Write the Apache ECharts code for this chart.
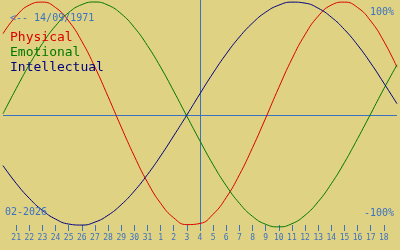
<!DOCTYPE html>
<html>
<head>
<meta charset="utf-8">
<script src="https://cdn.jsdelivr.net/npm/echarts@6/dist/echarts.min.js"></script>
<style>
html,body{margin:0;padding:0;background:#DFD283;}
#c{width:400px;height:250px;}
</style>
</head>
<body>
<div id="c"></div>
<script>
// Day labels (first and last slots are the chart edges, unlabeled)
var dayLabels = ['', '21','22','23','24','25','26','27','28','29','30','31',
  '1','2','3','4','5','6','7','8','9','10','11','12','13','14','15','16','17','18', ''];

// Values (fraction of 100%), one per slot
var physical = [0.72, 0.875, 0.973, 0.999, 0.951, 0.832, 0.652, 0.423, 0.163, -0.106,
  -0.364, -0.595, -0.781, -0.91, -0.97, -0.96, -0.878, -0.73, -0.529, -0.289,
  -0.027, 0.243, 0.496, 0.712, 0.875, 0.973, 0.999, 0.951, 0.832, 0.652, 0.423];
var emotional = [0.011, 0.233, 0.444, 0.632, 0.789, 0.906, 0.977, 1.0, 0.972, 0.896,
  0.775, 0.614, 0.424, 0.211, -0.011, -0.23, -0.44, -0.626, -0.781, -0.897,
  -0.967, -0.99, -0.962, -0.887, -0.767, -0.608, -0.42, -0.209, 0.011, 0.233, 0.444];
var intellectual = [-0.448, -0.604, -0.737, -0.844, -0.921, -0.965, -0.974, -0.948, -0.887, -0.794,
  -0.673, -0.527, -0.363, -0.184, 0, 0.189, 0.372, 0.541, 0.69, 0.814,
  0.91, 0.972, 0.999, 0.99, 0.945, 0.866, 0.756, 0.619, 0.459, 0.282, 0.1];

var todayIndex = 15; // label '4'
var birthText = '<-- 14/09/1971';
var monthText = '02-2026';
var topText = '100%';
var bottomText = '-100%';
var seriesNames = ['Physical', 'Emotional', 'Intellectual'];
var seriesColors = ['#DD0000', '#007800', '#000080'];

var blue = '#3A72C2';
var mono = '"DejaVu Sans Mono", "Liberation Mono", monospace';

var chart = echarts.init(document.getElementById('c'), null, {renderer: 'canvas'});

function mkSeries(name, data, color, withMarks) {
  var s = {
    name: name, type: 'line', data: data, smooth: true, showSymbol: false,
    symbol: 'none', lineStyle: {color: color, width: 1}, itemStyle: {color: color},
    z: 3
  };
  if (withMarks) {
    s.markLine = {
      silent: true, symbol: ['none', 'none'], label: {show: false},
      lineStyle: {color: blue, width: 1, type: 'solid'},
      data: [{yAxis: 0}, {xAxis: todayIndex}],
      z: 1
    };
  }
  return s;
}

chart.setOption({
  animation: false,
  backgroundColor: '#DFD283',
  grid: {left: 0, right: 0, top: 0, bottom: 20},
  xAxis: {
    type: 'category', data: dayLabels, boundaryGap: false, offset: -5,
    axisLine: {show: false, onZero: false},
    axisTick: {show: true, length: 6, lineStyle: {color: blue, width: 1},
      interval: function (idx, val) { return val !== ''; }},
    axisLabel: {show: true, interval: 0, color: blue, fontFamily: mono, fontSize: 8, margin: 9},
    splitLine: {show: false}
  },
  yAxis: {
    type: 'value', min: -1.0177, max: 1.0177, show: false
  },
  series: [
    mkSeries(seriesNames[0], physical, seriesColors[0], true),
    mkSeries(seriesNames[1], emotional, seriesColors[1], false),
    mkSeries(seriesNames[2], intellectual, seriesColors[2], false)
  ],
  graphic: [
    {type: 'text', left: 10, top: 13, style: {text: birthText, fill: blue, font: '10px ' + mono}, z: 10},
    {type: 'text', left: 10, top: 31, style: {text: seriesNames[0], fill: seriesColors[0], font: '13px ' + mono}, z: 10},
    {type: 'text', left: 10, top: 46, style: {text: seriesNames[1], fill: seriesColors[1], font: '13px ' + mono}, z: 10},
    {type: 'text', left: 10, top: 61, style: {text: seriesNames[2], fill: seriesColors[2], font: '13px ' + mono}, z: 10},
    {type: 'text', right: 6, top: 7, style: {text: topText, fill: blue, font: '10px ' + mono}, z: 10},
    {type: 'text', right: 6, top: 208, style: {text: bottomText, fill: blue, font: '10px ' + mono}, z: 10},
    {type: 'text', left: 5, top: 207, style: {text: monthText, fill: blue, font: '10px ' + mono}, z: 10}
  ]
});
</script>
</body>
</html>
